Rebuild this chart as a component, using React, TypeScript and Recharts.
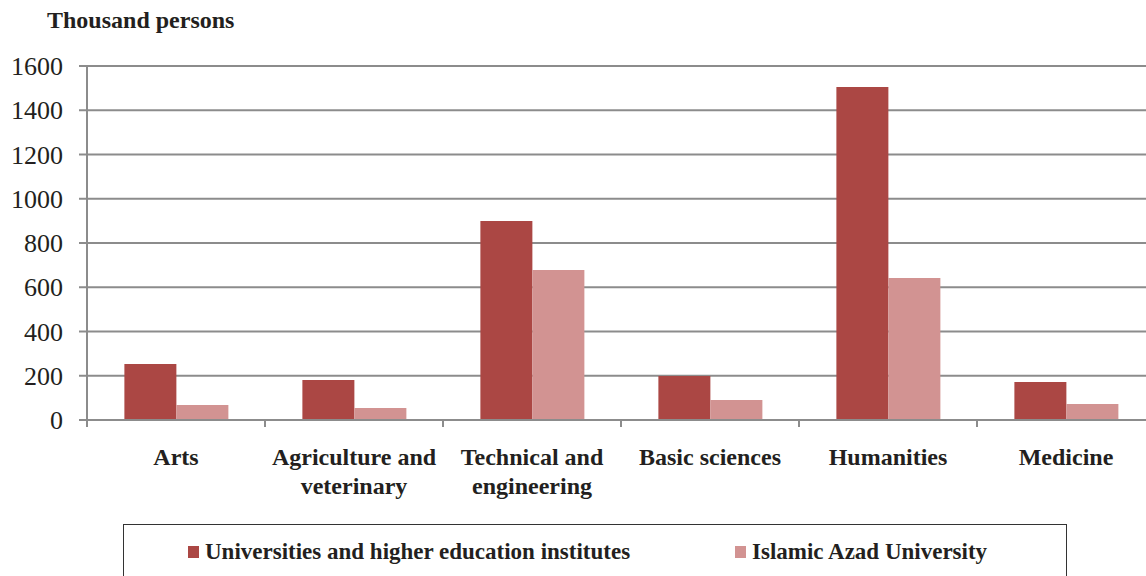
import React from 'react';
import { BarChart, Bar, XAxis, YAxis, CartesianGrid } from 'recharts';

const categories = [
  ['Arts'],
  ['Agriculture and', 'veterinary'],
  ['Technical and', 'engineering'],
  ['Basic sciences'],
  ['Humanities'],
  ['Medicine'],
];
const universities = [253, 181, 899, 199, 1505, 172];
const azad = [68, 54, 678, 90, 642, 72];
const yTicks = [0, 200, 400, 600, 800, 1000, 1200, 1400, 1600];
const seriesNames = ['Universities and higher education institutes', 'Islamic Azad University'];
const COLORS = ['#ab4744', '#d29392'];

const data = categories.map((lines, i) => ({
  name: lines.join(' '),
  lines,
  uni: universities[i],
  azad: azad[i],
}));

const CHART_W = 1146;
const LEFT = 87;
const BAND = 178;
const FONT = 'Times New Roman, Times, Liberation Serif, serif';
const FONT_CSS = '#root, #root * { font-family: "Liberation Serif", "Times New Roman", Tinos, serif !important; }';

const XTick = (props: any) => {
  const { x, y, payload, index } = props;
  const lines = data[index] ? data[index].lines : [payload.value];
  return (
    <g transform={`translate(${x},${y})`}>
      <line x1={-BAND / 2} x2={-BAND / 2} y1={0} y2={7} stroke="#8c8c8c" strokeWidth={2} />
      <text textAnchor="middle" fontFamily={FONT} fontWeight="bold" fontSize={24} fill="#231f20">
        {lines.map((l: string, i: number) => (
          <tspan key={i} x={0} y={45 + i * 29}>{l}</tspan>
        ))}
      </text>
    </g>
  );
};

const App = () => {
  return (
    <div style={{ position: 'absolute', left: 0, top: 0, width: 1146, height: 576, fontFamily: FONT }}>
      <style>{FONT_CSS}</style>
      <div style={{ position: 'absolute', left: 47, top: 7, fontWeight: 'bold', fontSize: 24, color: '#231f20' }}>
        Thousand persons
      </div>
      <BarChart
        width={CHART_W}
        height={576}
        data={data}
        margin={{ top: 66, right: -9, bottom: 56, left: 0 }}
        barCategoryGap="21%"
        barGap={0}
      >
        <CartesianGrid vertical={false} stroke="#8c8c8c" strokeWidth={2} />
        <YAxis
          width={LEFT}
          domain={[0, 1600]}
          ticks={yTicks}
          interval={0}
          stroke="#8c8c8c"
          strokeWidth={2}
          tickSize={8}
          tickMargin={16}
          tick={{ fontFamily: FONT, fontSize: 26, fill: '#231f20' }}
        />
        <XAxis
          dataKey="name"
          height={100}
          interval={0}
          stroke="#8c8c8c"
          strokeWidth={2}
          tickLine={false}
          tickSize={0}
          tickMargin={0}
          tick={<XTick />}
        />
        <Bar dataKey="uni" name={seriesNames[0]} fill={COLORS[0]} isAnimationActive={false} />
        <Bar dataKey="azad" name={seriesNames[1]} fill={COLORS[1]} isAnimationActive={false} />
      </BarChart>
      <div
        style={{
          position: 'absolute',
          left: 123,
          top: 524,
          width: 944,
          height: 52,
          borderTop: '1.5px solid #333',
          borderLeft: '1.5px solid #333',
          borderRight: '1.5px solid #333',
          boxSizing: 'border-box',
          fontWeight: 'bold',
          fontSize: 23,
          color: '#231f20',
        }}
      >
        {seriesNames.map((n, i) => (
          <div key={n} style={{ position: 'absolute', left: i === 0 ? 64 : 611, top: 14, whiteSpace: 'nowrap', display: 'flex', alignItems: 'center' }}>
            <span style={{ display: 'inline-block', width: 11, height: 12, background: COLORS[i], marginRight: 6 }} />
            {n}
          </div>
        ))}
      </div>
    </div>
  );
};

export default App;
